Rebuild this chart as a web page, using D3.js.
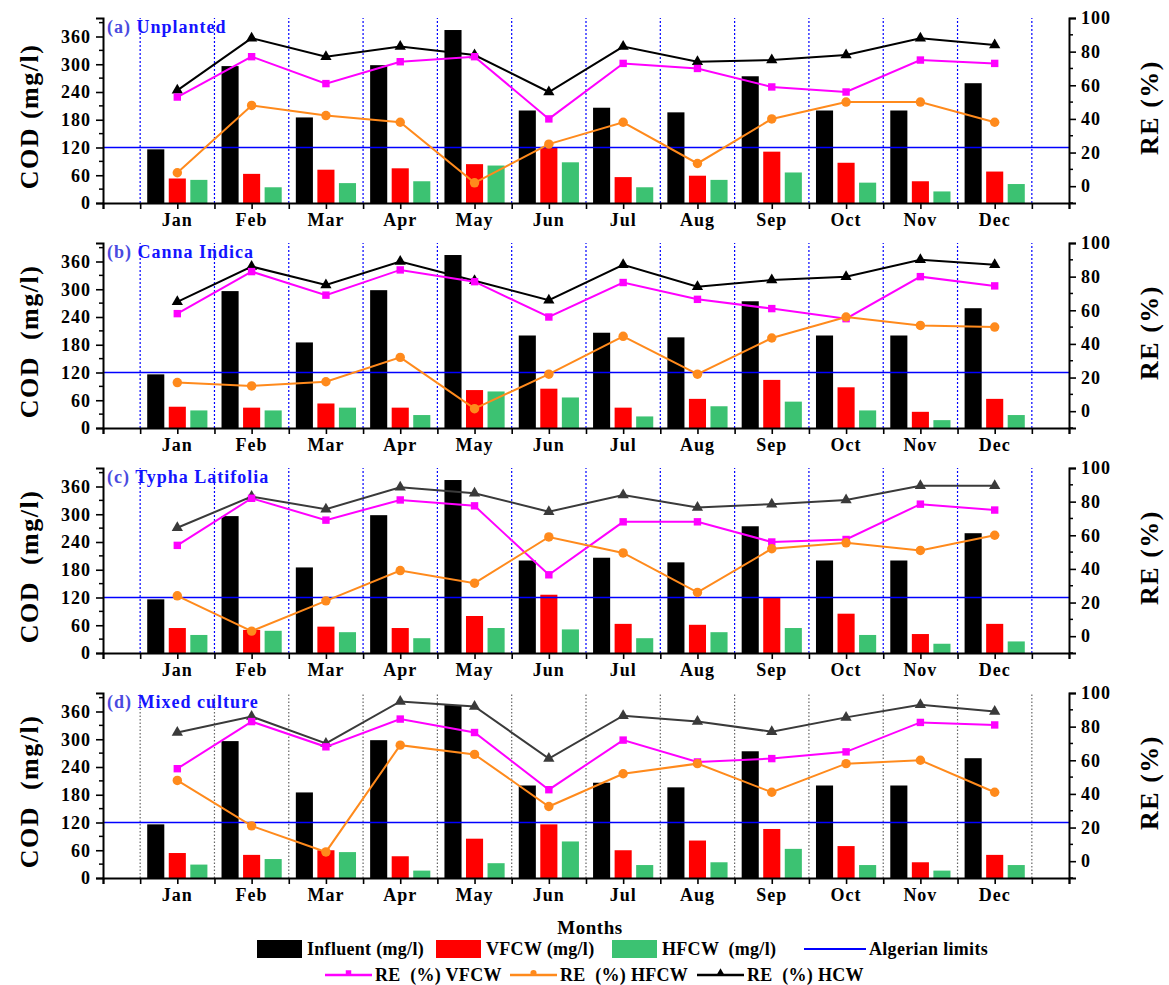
<!DOCTYPE html>
<html>
<head>
<meta charset="utf-8">
<script src="https://cdn.jsdelivr.net/npm/d3@7"></script>
<style>
  html, body { margin: 0; padding: 0; background: #fff; }
  svg text { font-family: "Liberation Serif", "Times New Roman", serif; font-weight: bold; }
</style>
</head>
<body>
<svg id="chart" width="1169" height="985"></svg>
<script>
// ---------------- DATA ----------------
const months = ["Jan","Feb","Mar","Apr","May","Jun","Jul","Aug","Sep","Oct","Nov","Dec"];
const leftTicks = [0, 60, 120, 180, 240, 300, 360];
const rightTicks = [0, 20, 40, 60, 80, 100];
const algerianLimit = 120;

const influent = [116, 296, 185, 298, 374, 200, 206, 196, 274, 200, 200, 259];

// (a) Unplanted
const vfcwA  = [53, 63, 72, 75, 84, 121, 56, 59, 111, 87, 47, 68];
const hfcwA  = [50, 34, 43, 47, 81, 88, 34, 50, 66, 44, 25, 41];
const reVA   = [53, 77, 61, 74, 77, 40, 73, 70, 59, 56, 75, 73];
const reHA   = [8, 48, 42, 38, 2, 25, 38, 13.5, 40, 50, 50, 38];
const reHCWA = [57, 88, 77, 83, 78, 56, 83, 74, 75, 78, 88, 84];

// (b) Canna Indica
const vfcwB  = [46, 44, 53, 44, 82, 85, 44, 63, 104, 88, 35, 63];
const hfcwB  = [38, 38, 44, 28, 79, 66, 25, 47, 57, 38, 17, 28];
const reVB   = [58, 83, 69, 84, 77, 56, 76.5, 66.5, 61, 55, 80, 74.5];
const reHB   = [17, 15, 17.5, 32, 1.5, 22, 44.5, 22, 43.5, 56, 51, 50];
const reHCWB = [65, 86, 75, 89, 77.5, 66, 87, 74, 78, 80, 90, 87];

// (c) Typha Latifolia
const vfcwC  = [54, 50, 57, 54, 80, 126, 63, 61, 120, 85, 41, 63];
const hfcwC  = [39, 48, 45, 32, 54, 51, 32, 45, 54, 39, 20, 25];
const reVC   = [54, 82, 69, 81, 77.5, 36.5, 68, 68, 56, 57.5, 78.5, 75];
const reHC   = [24, 3, 21, 39, 31.5, 59, 49.5, 26, 52, 55.5, 51, 60];
const reHCWC = [64.5, 83, 75.5, 88.5, 85, 74, 84, 76.5, 78.5, 81, 89.5, 89.5];

// (d) Mixed culture
const vfcwD  = [54, 50, 60, 47, 85, 116, 60, 81, 106, 69, 34, 50];
const hfcwD  = [29, 41, 56, 16, 32, 79, 28, 34, 63, 28, 16, 28];
const reVD   = [55, 83, 68, 84.5, 76.5, 42.5, 72, 59, 61, 65, 82.5, 81];
const reHD   = [48, 21, 5.5, 69, 63.5, 32.5, 52, 58, 41, 58, 60, 41];
const reHCWD = [76.5, 86, 70, 95, 92, 61, 86.5, 83, 77, 85.5, 93, 89];

const panelTitles = [["(a)", "Unplanted"], ["(b)", "Canna Indica"], ["(c)", "Typha Latifolia"], ["(d)", "Mixed culture"]];
const codLabels = ["COD (mg/l)", "COD  (mg/l)", "COD  (mg/l)", "COD  (mg/l)"];
const legendBars = ["Influent (mg/l)", "VFCW (mg/l)", "HFCW  (mg/l)"];
const legendLines = ["RE  (%) VFCW", "RE  (%) HFCW", "RE  (%) HCW"];

// ---------------- STYLE ----------------
const C = { inf: "#000000", vf: "#ff0000", hf: "#3cc272", limit: "#0000ff",
            reV: "#ff00ff", reH: "#ff8a1c", title1: "#4a4ae0", title2: "#1414ff" };

const panels = [
  { title: panelTitles[0], cod: codLabels[0], vf: vfcwA, hf: hfcwA, reV: reVA, reH: reHA, reT: reHCWA, tri: "#000", grid: "#0000ff", gridDash: "2,2" },
  { title: panelTitles[1], cod: codLabels[1], vf: vfcwB, hf: hfcwB, reV: reVB, reH: reHB, reT: reHCWB, tri: "#000", grid: "#0000ff", gridDash: "2,2" },
  { title: panelTitles[2], cod: codLabels[2], vf: vfcwC, hf: hfcwC, reV: reVC, reH: reHC, reT: reHCWC, tri: "#3a3a3a", grid: "#0000ff", gridDash: "2,2" },
  { title: panelTitles[3], cod: codLabels[3], vf: vfcwD, hf: hfcwD, reV: reVD, reH: reHD, reT: reHCWD, tri: "#3a3a3a", grid: "#666", gridDash: "1.5,2" }
];

const svg = d3.select("#chart");
const X0 = 103, X1 = 1069;
const x = d3.scaleLinear().domain([0, 13]).range([X0, X1]);
const monthStep = x(1) - x(0);
const barW = 0.23 * monthStep;
const barOff = 0.29;

panels.forEach((p, i) => {
  const bottom = 203 + i * 225;
  const top = bottom - 185;
  const yL = d3.scaleLinear().domain([0, 400]).range([bottom, top]);
  const yR = d3.scaleLinear().domain([-10, 100]).range([bottom, top]);
  const g = svg.append("g");

  // vertical dotted grid lines
  const gridPos = d3.range(0.5, 13, 1);
  g.selectAll(".grid").data(gridPos).join("line")
    .attr("x1", d => x(d)).attr("x2", d => x(d))
    .attr("y1", bottom).attr("y2", top)
    .attr("stroke", p.grid).attr("stroke-width", 1.2).attr("stroke-dasharray", p.gridDash);

  // bars
  const series = [
    { vals: influent, off: -barOff, col: C.inf },
    { vals: p.vf, off: 0, col: C.vf },
    { vals: p.hf, off: barOff, col: C.hf }
  ];
  series.forEach(s => {
    g.selectAll(null).data(s.vals).join("rect")
      .attr("x", (d, k) => x(k + 1 + s.off) - barW / 2)
      .attr("width", barW)
      .attr("y", d => yL(d))
      .attr("height", d => yL(0) - yL(d))
      .attr("fill", s.col);
  });

  // Algerian limit
  g.append("line").attr("x1", X0).attr("x2", X1)
    .attr("y1", yL(algerianLimit)).attr("y2", yL(algerianLimit))
    .attr("stroke", C.limit).attr("stroke-width", 1.6);

  // RE lines
  const line = d3.line().x((d, k) => x(k + 1)).y(d => yR(d));
  const drawSeries = (vals, col, symbol, size) => {
    g.append("path").datum(vals).attr("d", line)
      .attr("fill", "none").attr("stroke", col).attr("stroke-width", 2);
    g.selectAll(null).data(vals).join("path")
      .attr("transform", (d, k) => `translate(${x(k + 1)},${yR(d)})`)
      .attr("d", d3.symbol().type(symbol).size(size))
      .attr("fill", col);
  };
  drawSeries(p.reT, p.tri, d3.symbolTriangle, 55);
  drawSeries(p.reV, C.reV, d3.symbolSquare, 55);
  drawSeries(p.reH, C.reH, d3.symbolCircle, 70);

  // left axis
  const axL = d3.axisLeft(yL).tickValues(leftTicks).tickSize(7).tickPadding(5);
  const gl = g.append("g").attr("transform", `translate(${X0},0)`).call(axL);
  gl.selectAll(".tick text").attr("font-size", 18).attr("letter-spacing", 1).attr("fill", "#000");
  gl.append("g").selectAll("line").data(d3.range(30, 400, 60)).join("line")
    .attr("x1", 0).attr("x2", -4).attr("y1", d => yL(d)).attr("y2", d => yL(d))
    .attr("stroke", "#000").attr("stroke-width", 1.5);

  // right axis
  const axR = d3.axisRight(yR).tickValues(rightTicks).tickSize(7).tickPadding(5);
  const gr = g.append("g").attr("transform", `translate(${X1},0)`).call(axR);
  gr.selectAll(".tick text").attr("font-size", 18).attr("letter-spacing", 1).attr("fill", "#000");
  gr.append("g").selectAll("line").data(d3.range(-10, 100, 20)).join("line")
    .attr("x1", 0).attr("x2", 4).attr("y1", d => yR(d)).attr("y2", d => yR(d))
    .attr("stroke", "#000").attr("stroke-width", 1.5);

  // bottom axis
  const axB = d3.axisBottom(x).tickValues(d3.range(0, 13.5, 0.5)).tickSize(6).tickFormat("");
  const gb = g.append("g").attr("transform", `translate(0,${bottom})`).call(axB);
  g.selectAll(null).data(months).join("text")
    .attr("x", (d, k) => x(k + 1)).attr("y", bottom + 23)
    .attr("text-anchor", "middle").attr("font-size", 18).attr("letter-spacing", 1)
    .text(d => d);

  [gl, gr, gb].forEach(a => {
    a.select(".domain").attr("stroke", "#000").attr("stroke-width", 2);
    a.selectAll(".tick line").attr("stroke", "#000").attr("stroke-width", 1.6);
  });

  // panel title
  const t = g.append("text").attr("x", X0 + 4).attr("y", top + 15).attr("font-size", 18).attr("letter-spacing", 1);
  t.append("tspan").attr("fill", C.title1).text(p.title[0] + " ");
  t.append("tspan").attr("fill", C.title2).text(p.title[1]);

  // axis titles
  const midY = (top + bottom) / 2;
  g.append("text").attr("transform", `translate(38,${midY + 6}) rotate(-90)`)
    .attr("text-anchor", "middle").attr("font-size", 26).attr("letter-spacing", 1.5)
    .style("white-space", "pre").text(p.cod);
  g.append("text").attr("transform", `translate(1158,${midY - 3}) rotate(-90)`)
    .attr("text-anchor", "middle").attr("font-size", 26).attr("letter-spacing", 1.5)
    .style("white-space", "pre").text("RE (%)");
});

// ---------------- LEGEND ----------------
svg.append("text").attr("x", 590).attr("y", 934).attr("text-anchor", "middle")
  .attr("font-size", 19).attr("letter-spacing", 0.5).text("Months");

const lg = svg.append("g");
const row1 = [
  { col: C.inf, x: 257, label: legendBars[0] },
  { col: C.vf, x: 436, label: legendBars[1] },
  { col: C.hf, x: 612, label: legendBars[2] }
];
row1.forEach(r => {
  lg.append("rect").attr("x", r.x).attr("y", 940).attr("width", 45).attr("height", 18).attr("fill", r.col);
  lg.append("text").attr("x", r.x + 50).attr("y", 955).attr("font-size", 18).attr("letter-spacing", 0.3)
    .style("white-space", "pre").text(r.label);
});
lg.append("line").attr("x1", 804).attr("x2", 866).attr("y1", 949).attr("y2", 949)
  .attr("stroke", C.limit).attr("stroke-width", 2);
lg.append("text").attr("x", 869).attr("y", 955).attr("font-size", 18).attr("letter-spacing", 0.3).text("Algerian limits");

const row2 = [
  { col: C.reV, sym: d3.symbolSquare, x: 325, label: legendLines[0] },
  { col: C.reH, sym: d3.symbolCircle, x: 510, label: legendLines[1] },
  { col: "#000", sym: d3.symbolTriangle, x: 697, label: legendLines[2] }
];
row2.forEach(r => {
  lg.append("line").attr("x1", r.x).attr("x2", r.x + 47).attr("y1", 975).attr("y2", 975)
    .attr("stroke", r.col).attr("stroke-width", 2.5);
  lg.append("path").attr("transform", `translate(${r.x + 23.5},973)`)
    .attr("d", d3.symbol().type(r.sym).size(30)).attr("fill", r.col);
  lg.append("text").attr("x", r.x + 50).attr("y", 981).attr("font-size", 18).attr("letter-spacing", 0.3)
    .style("white-space", "pre").text(r.label);
});
</script>
</body>
</html>
